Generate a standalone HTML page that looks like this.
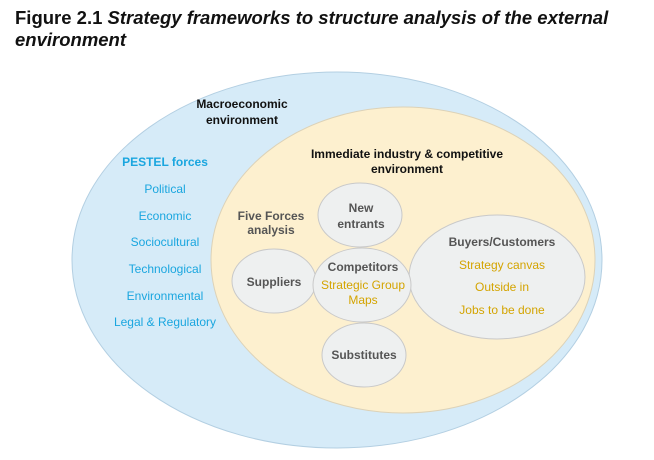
<!DOCTYPE html>
<html><head><meta charset="utf-8"><style>
html,body{margin:0;padding:0;background:#fff;width:654px;height:460px;overflow:hidden}
.t{position:absolute;left:15px;font-family:"Liberation Sans",sans-serif;font-size:18.5px;color:#111;white-space:nowrap}
svg{position:absolute;left:0;top:0}
text{font-family:"Liberation Sans",sans-serif;font-size:12px;text-anchor:middle}
.b{font-weight:bold}
.k{fill:#111}
.bl{fill:#1aa6df}
.g{fill:#555}
.y{fill:#d4a400}
</style></head><body>
<svg width="654" height="460" viewBox="0 0 654 460">
<ellipse cx="337" cy="260" rx="265" ry="188" fill="#d6ebf8" stroke="#b3cfe2" stroke-width="1"/>
<ellipse cx="403" cy="260" rx="192" ry="153" fill="#fdf0cf" stroke="#dcd2b8" stroke-width="1"/>
<ellipse cx="360" cy="215" rx="42" ry="32" fill="#eef0f0" stroke="#c9c9c9"/>
<ellipse cx="274" cy="281" rx="42" ry="32" fill="#eef0f0" stroke="#c9c9c9"/>
<ellipse cx="364" cy="355" rx="42" ry="32" fill="#eef0f0" stroke="#c9c9c9"/>
<ellipse cx="497" cy="277" rx="88" ry="62" fill="#eef0f0" stroke="#c9c9c9"/>
<ellipse cx="362" cy="285" rx="49" ry="37" fill="#eef0f0" stroke="#c9c9c9"/>
<text x="242" y="108" class="b k">Macroeconomic</text>
<text x="242" y="124" class="b k">environment</text>
<text x="165" y="166" class="b bl">PESTEL forces</text>
<text x="165" y="193" class="bl">Political</text>
<text x="165" y="220" class="bl">Economic</text>
<text x="165" y="246" class="bl">Sociocultural</text>
<text x="165" y="273" class="bl">Technological</text>
<text x="165" y="300" class="bl">Environmental</text>
<text x="165" y="326" class="bl">Legal &amp; Regulatory</text>
<text x="407" y="158" class="b k">Immediate industry &amp; competitive</text>
<text x="407" y="173" class="b k">environment</text>
<text x="271" y="220" class="b g">Five Forces</text>
<text x="271" y="234" class="b g">analysis</text>
<text x="361" y="212" class="b g">New</text>
<text x="361" y="228" class="b g">entrants</text>
<text x="274" y="286" class="b g">Suppliers</text>
<text x="363" y="271" class="b g">Competitors</text>
<text x="363" y="289" class="y">Strategic Group</text>
<text x="363" y="304" class="y">Maps</text>
<text x="364" y="359" class="b g">Substitutes</text>
<text x="502" y="246" class="b g">Buyers/Customers</text>
<text x="502" y="269" class="y">Strategy canvas</text>
<text x="502" y="291" class="y">Outside in</text>
<text x="502" y="314" class="y">Jobs to be done</text>
</svg>
<div class="t" style="top:7px"><b>Figure 2.1</b> <b><i>Strategy frameworks to structure analysis of the external</i></b></div>
<div class="t" style="top:29px"><b><i>environment</i></b></div>
</body></html>
